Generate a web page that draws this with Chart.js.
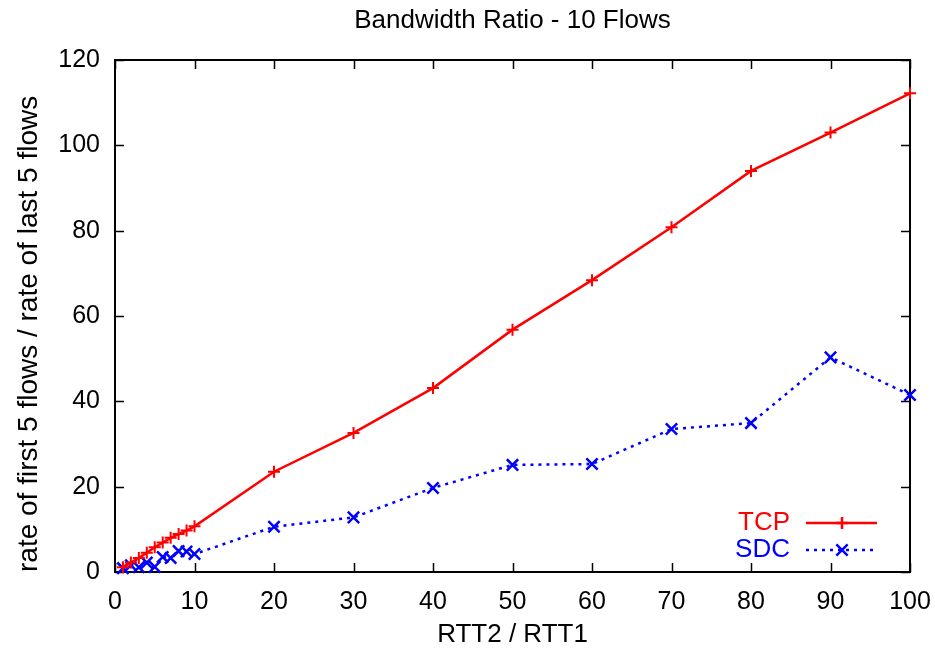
<!DOCTYPE html>
<html>
<head>
<meta charset="utf-8">
<script src="https://cdn.jsdelivr.net/npm/chart.js@4/dist/chart.umd.min.js"></script>
<style>
  html, body { margin: 0; padding: 0; background: #fff; }
</style>
</head>
<body>
<canvas id="ratio-chart" width="935" height="652"></canvas>
<script>
const ratios = [1, 2, 3, 4, 5, 6, 7, 8, 9, 10, 20, 30, 40, 50, 60, 70, 80, 90, 100];
const tcp = [1.1, 2.2, 3.3, 4.5, 5.8, 6.9, 8.0, 8.9, 9.7, 10.7, 23.5, 32.6, 43.1, 56.8, 68.4, 80.8, 94.0, 103.0, 112.2];
const sdc = [0.9, 1.6, 1.1, 2.2, 1.2, 3.5, 3.3, 4.9, 4.8, 4.2, 10.6, 12.8, 19.7, 25.1, 25.3, 33.5, 34.9, 50.3, 41.5];
const seriesNames = ['TCP', 'SDC'];
const chartTitle = 'Bandwidth Ratio - 10 Flows';
const xTitle = 'RTT2 / RTT1';
const yTitle = 'rate of first 5 flows / rate of last 5 flows';

const FONT = '"Liberation Sans", Arial, Helvetica, sans-serif';

const points = vals => vals.map((v, i) => ({ x: ratios[i], y: v }));

// gnuplot-like frame: box, inward ticks on all four sides
const frame = {
  id: 'frame',
  beforeDatasetsDraw(chart) {
    const { ctx, chartArea: a, scales: { x, y } } = chart;
    ctx.save();
    ctx.strokeStyle = '#000';
    ctx.lineWidth = 1.5;
    ctx.beginPath();
    x.ticks.forEach(t => {
      const px = Math.round(x.getPixelForValue(t.value)) + 0.5;
      ctx.moveTo(px, a.bottom); ctx.lineTo(px, a.bottom - 9);
      ctx.moveTo(px, a.top); ctx.lineTo(px, a.top + 9);
    });
    y.ticks.forEach(t => {
      const py = Math.round(y.getPixelForValue(t.value)) + 0.5;
      ctx.moveTo(a.left, py); ctx.lineTo(a.left + 9, py);
      ctx.moveTo(a.right, py); ctx.lineTo(a.right - 9, py);
    });
    ctx.stroke();
    ctx.lineWidth = 2;
    ctx.strokeRect(a.left, a.top, a.right - a.left, a.bottom - a.top);
    ctx.restore();
  },
  afterDraw(chart) {
    const { ctx, chartArea: a } = chart;
    ctx.save();
    // title
    ctx.fillStyle = '#000';
    ctx.font = '26px ' + FONT;
    ctx.textAlign = 'center';
    ctx.textBaseline = 'middle';
    ctx.fillText(chartTitle, (a.left + a.right) / 2, 21);

    // legend, text right-aligned before the sample
    chart.data.datasets.forEach((ds, i) => {
      const cy = 523 + i * 27;
      ctx.fillStyle = ds.borderColor;
      ctx.textAlign = 'right';
      ctx.fillText(ds.label, 790, cy);
      ctx.strokeStyle = ds.borderColor;
      ctx.lineWidth = ds.borderWidth;
      ctx.setLineDash(ds.borderDash || []);
      ctx.beginPath();
      ctx.moveTo(806, cy); ctx.lineTo(877, cy);
      ctx.stroke();
      ctx.setLineDash([]);
      Chart.helpers.drawPoint(ctx, {
        pointStyle: ds.pointStyle, radius: ds.pointRadius,
        rotation: 0, borderWidth: ds.pointBorderWidth
      }, 842, cy);
    });
    ctx.restore();
  }
};

new Chart(document.getElementById('ratio-chart'), {
  type: 'line',
  data: {
    datasets: [
      {
        label: seriesNames[0],
        data: points(tcp),
        borderColor: '#ff0000',
        backgroundColor: '#ff0000',
        borderWidth: 2.5,
        pointStyle: 'cross',
        pointRadius: 6,
        pointBorderWidth: 2,
        clip: false,
      },
      {
        label: seriesNames[1],
        data: points(sdc),
        borderColor: '#0000ff',
        backgroundColor: '#0000ff',
        borderWidth: 2.5,
        borderDash: [3, 5],
        pointStyle: 'crossRot',
        pointRadius: 8,
        pointBorderWidth: 2.5,
        clip: false,
      },
    ],
  },
  options: {
    responsive: false,
    animation: false,
    devicePixelRatio: 1,
    layout: { padding: { top: 60, right: 25, bottom: 0, left: 0 } },
    plugins: {
      legend: { display: false },
      tooltip: { enabled: false },
    },
    scales: {
      x: {
        type: 'linear',
        min: 0,
        max: 100,
        ticks: { stepSize: 10, padding: 15, color: '#000', font: { family: FONT, size: 25 } },
        grid: { display: false, drawTicks: false },
        border: { display: false },
        title: { display: true, text: xTitle, color: '#000', padding: { top: 0, bottom: 2 }, font: { family: FONT, size: 26 } },
        afterFit: s => { s.height = 80; s.paddingLeft = 0; s.paddingRight = 0; },
      },
      y: {
        min: 0,
        max: 120,
        ticks: { stepSize: 20, padding: 15, color: '#000', font: { family: FONT, size: 25 } },
        grid: { display: false, drawTicks: false },
        border: { display: false },
        title: { display: true, text: yTitle, align: 'start', color: '#000', padding: { top: 12, bottom: 0 }, font: { family: FONT, size: 28 } },
        afterFit: s => { s.width = 115; s.paddingTop = 0; s.paddingBottom = 0; },
      },
    },
  },
  plugins: [frame],
});
</script>
</body>
</html>
